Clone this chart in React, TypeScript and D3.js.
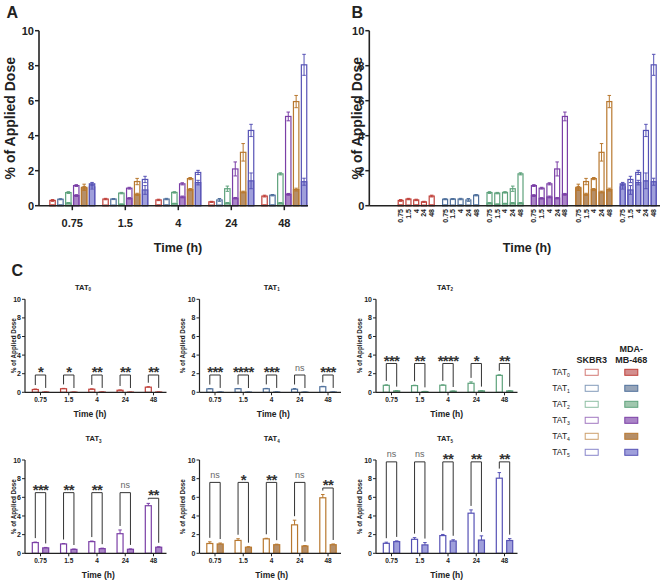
import React from "react";
import * as d3 from "d3";

// ---------- data ----------
const times = ["0.75", "1.5", "4", "24", "48"];
const tatDigits = ["0", "1", "2", "3", "4", "5"];
const strokeColors = ["#c0403a", "#4f709c", "#5ea27c", "#7b3fa6", "#b8782f", "#5652b5"];
const fillColors = ["#c87272", "#7d8ea8", "#88b99a", "#9566b9", "#a27242", "#8787d2"];

// SKBR3 (hollow) means and SD, per TAT, per time point
const skbr3Mean = [
  [0.30, 0.38, 0.33, 0.22, 0.55],
  [0.37, 0.38, 0.38, 0.33, 0.60],
  [0.75, 0.72, 0.76, 0.97, 1.82],
  [1.15, 1.00, 1.25, 2.10, 5.10],
  [1.05, 1.38, 1.55, 3.05, 5.95],
  [1.07, 1.50, 1.90, 4.30, 8.05],
];
const skbr3Sd = [
  [0.05, 0.04, 0.04, 0.03, 0.05],
  [0.03, 0.03, 0.04, 0.08, 0.04],
  [0.05, 0.04, 0.04, 0.15, 0.06],
  [0.05, 0.05, 0.06, 0.40, 0.25],
  [0.18, 0.18, 0.06, 0.50, 0.35],
  [0.12, 0.18, 0.12, 0.35, 0.60],
];
// MDA-MB-468 (filled)
const mdaMean = [
  [0.03, 0.02, 0.03, 0.02, 0.03],
  [0.03, 0.02, 0.03, 0.02, 0.03],
  [0.15, 0.08, 0.12, 0.15, 0.15],
  [0.58, 0.42, 0.50, 0.43, 0.65],
  [1.00, 0.65, 0.92, 0.78, 0.92],
  [1.25, 0.90, 1.32, 1.42, 1.37],
];
const mdaSd = [
  [0.01, 0.01, 0.01, 0.01, 0.01],
  [0.01, 0.01, 0.01, 0.01, 0.01],
  [0.03, 0.02, 0.02, 0.03, 0.03],
  [0.05, 0.04, 0.05, 0.04, 0.05],
  [0.10, 0.06, 0.06, 0.05, 0.08],
  [0.08, 0.25, 0.13, 0.45, 0.20],
];
const significance = [
  ["*", "*", "**", "**", "**"],
  ["***", "****", "***", "ns", "***"],
  ["***", "**", "****", "*", "**"],
  ["***", "**", "**", "ns", "**"],
  ["ns", "*", "**", "ns", "**"],
  ["ns", "ns", "**", "**", "**"],
];
const bracketLevel = [
  [1.86, 1.86, 1.86, 1.86, 1.86],
  [1.86, 1.86, 1.86, 1.86, 1.86],
  [3.1, 3.1, 3.1, 3.1, 3.1],
  [6.5, 6.5, 6.5, 6.5, 5.9],
  [7.6, 7.6, 7.6, 7.6, 7.0],
  [9.8, 9.8, 9.8, 9.8, 9.8],
];
const yTicks = [0, 2, 4, 6, 8, 10];
const cellLines = ["SKBR3", "MDA-MB-468"];

const FONT = "'Liberation Sans', Arial, Helvetica, sans-serif";

// ---------- helpers ----------
function Tat({ d, x, y, size, anchor = "middle", weight = "normal" }: any) {
  return (
    <text x={x} y={y} fontSize={size} fontWeight={weight} textAnchor={anchor} fontFamily={FONT} fill="#222">
      TAT
      <tspan fontSize={size * 0.6} dy={size * 0.25}>{d}</tspan>
    </text>
  );
}

function ErrBar({ cx, y, mean, sd, color, both, cap }: any) {
  const top = y(mean + sd);
  const bot = both ? y(Math.max(0, mean - sd)) : y(mean);
  return (
    <g stroke={color} strokeWidth={1}>
      <line x1={cx} x2={cx} y1={top} y2={bot} />
      <line x1={cx - cap / 2} x2={cx + cap / 2} y1={top} y2={top} />
      {both && <line x1={cx - cap / 2} x2={cx + cap / 2} y1={bot} y2={bot} />}
    </g>
  );
}

function OverlayBar({ cx, bw, y, k, t }: any) {
  const s = skbr3Mean[k][t];
  const m = mdaMean[k][t];
  return (
    <g>
      <rect x={cx - bw / 2} y={y(s)} width={bw} height={y(0) - y(s)} fill="#fff" stroke={strokeColors[k]} strokeWidth={1.2} />
      <rect x={cx - bw / 2} y={y(m)} width={bw} height={y(0) - y(m)} fill={fillColors[k]} fillOpacity={0.8} stroke={strokeColors[k]} strokeWidth={1.2} />
      <ErrBar cx={cx} y={y} mean={s} sd={skbr3Sd[k][t]} color={strokeColors[k]} both cap={3.5} />
      <ErrBar cx={cx} y={y} mean={m} sd={mdaSd[k][t]} color={strokeColors[k]} both cap={3.5} />
    </g>
  );
}

function YAxisBig({ x, y, ylabX }: any) {
  return (
    <g fontFamily={FONT}>
      <line x1={x} x2={x} y1={y(10)} y2={y(0)} stroke="#222" strokeWidth={1.6} />
      {yTicks.map((v) => (
        <g key={v}>
          <line x1={x - 4} x2={x} y1={y(v)} y2={y(v)} stroke="#222" strokeWidth={1.5} />
          <text x={x - 5} y={y(v)} dy="0.36em" textAnchor="end" fontSize={11} fontWeight="bold" fill="#222">{v}</text>
        </g>
      ))}
      <text transform={`translate(${ylabX},${(y(0) + y(10)) / 2}) rotate(-90)`} textAnchor="middle" dy="0.35em" fontSize={14} fontWeight="bold" fill="#222">% of Applied Dose</text>
    </g>
  );
}

// ---------- Panel A ----------
function PanelA() {
  const y = d3.scaleLinear().domain([0, 10]).range([205.7, 30.7]);
  const xg = d3.scaleBand().domain(times).range([45.8, 310.8]);
  const xi = d3.scalePoint<number>().domain(d3.range(6)).range([-19.75, 19.75]);
  const bw = 5.4;
  const axX = 39;
  return (
    <g>
      <text x={6.5} y={17.5} fontSize={16} fontWeight="bold" fontFamily={FONT} fill="#222">A</text>
      {times.map((tm, t) =>
        d3.range(6).map((k) => (
          <OverlayBar key={tm + k} cx={xg(tm)! + xg.bandwidth() / 2 + xi(k)!} bw={bw} y={y} k={k} t={t} />
        ))
      )}
      <YAxisBig x={axX} y={y} ylabX={10} />
      <line x1={axX} x2={308} y1={y(0)} y2={y(0)} stroke="#222" strokeWidth={1.6} />
      {times.map((tm) => {
        const cx = xg(tm)! + xg.bandwidth() / 2;
        return (
          <g key={tm}>
            <line x1={cx} x2={cx} y1={y(0)} y2={y(0) + 4.5} stroke="#222" strokeWidth={1.5} />
            <text x={cx} y={227} textAnchor="middle" fontSize={11} fontWeight="bold" fontFamily={FONT} fill="#222">{tm}</text>
          </g>
        );
      })}
      <text x={178} y={251.5} textAnchor="middle" fontSize={12.5} fontWeight="bold" fontFamily={FONT} fill="#222">Time (h)</text>
    </g>
  );
}

// ---------- Panel B ----------
function PanelB() {
  const y = d3.scaleLinear().domain([0, 10]).range([205.7, 30.7]);
  const xg = d3.scalePoint<number>().domain(d3.range(6)).range([416.2, 638.2]);
  const xi = d3.scalePoint<string>().domain(times).range([-15.5, 15.5]);
  const bw = 5;
  const axX = 369.3;
  return (
    <g>
      <text x={351.5} y={17.5} fontSize={16} fontWeight="bold" fontFamily={FONT} fill="#222">B</text>
      {d3.range(6).map((k) =>
        times.map((tm, t) => (
          <OverlayBar key={tm + k} cx={xg(k)! + xi(tm)!} bw={bw} y={y} k={k} t={t} />
        ))
      )}
      <YAxisBig x={axX} y={y} ylabX={357} />
      <line x1={axX} x2={660} y1={y(0)} y2={y(0)} stroke="#222" strokeWidth={1.6} />
      {d3.range(6).map((k) =>
        times.map((tm) => {
          const cx = xg(k)! + xi(tm)!;
          return (
            <text key={tm + k} transform={`translate(${cx},${209}) rotate(-90)`} textAnchor="end" dy="0.35em" fontSize={7} fontWeight="bold" fontFamily={FONT} fill="#222">{tm}</text>
          );
        })
      )}
      <text x={527} y={251.5} textAnchor="middle" fontSize={12.5} fontWeight="bold" fontFamily={FONT} fill="#222">Time (h)</text>
    </g>
  );
}

// ---------- Panel C ----------
const cCols = [25, 199.5, 376];
const cColYlab = [14, 182.7, 360];
const cRows = [[392.3, 299.3], [553.3, 460]];
const cTitleX = [83, 271.7, 445, 93.5, 271.7, 445];
const cTitleY = [289.5, 440.7];
const cTimeX = [90, 273.3, 446.7, 98.3, 271.7, 446.7];
const cTimeY = [416.5, 577.5];

function SmallPanel({ k }: any) {
  const col = k % 3;
  const row = Math.floor(k / 3);
  const x0 = cCols[col];
  const x1 = x0 + 141.5;
  const y = d3.scaleLinear().domain([0, 10]).range(cRows[row]);
  const x = d3.scalePoint<string>().domain(times).range([x0 + 15.5, x0 + 128.5]);
  const off = 5.2;
  const bw = 6;
  const c = strokeColors[k];
  return (
    <g fontFamily={FONT}>
      <Tat d={tatDigits[k]} x={cTitleX[k]} y={cTitleY[row]} size={7.5} weight="bold" />
      {times.map((tm, t) => {
        const cx = x(tm)!;
        const s = skbr3Mean[k][t];
        const m = mdaMean[k][t];
        const sTop = y(s + skbr3Sd[k][t]);
        const mTop = y(m + mdaSd[k][t]);
        const by = y(bracketLevel[k][t]);
        const sig = significance[k][t];
        const lx = cx - off;
        const rx = cx + off;
        return (
          <g key={tm}>
            <rect x={lx - bw / 2} y={y(s)} width={bw} height={y(0) - y(s)} fill="#fff" stroke={c} strokeWidth={1.2} />
            <rect x={rx - bw / 2} y={y(m)} width={bw} height={y(0) - y(m)} fill={fillColors[k]} fillOpacity={0.8} stroke={c} strokeWidth={1.2} />
            <ErrBar cx={lx} y={y} mean={s} sd={skbr3Sd[k][t]} color={c} cap={3.5} />
            <ErrBar cx={rx} y={y} mean={m} sd={mdaSd[k][t]} color={c} cap={3.5} />
            <path d={`M${lx},${sTop - 4}V${by}H${rx}V${mTop - 4}`} fill="none" stroke="#333" strokeWidth={1} />
            {sig === "ns" ? (
              <text x={cx} y={by - 4.5} textAnchor="middle" fontSize={9} fill="#666">ns</text>
            ) : (
              <text x={cx} y={by + 2.2} textAnchor="middle" fontSize={15} fontWeight="bold" fill="#333" letterSpacing={-0.7}>{sig}</text>
            )}
            <line x1={cx} x2={cx} y1={y(0)} y2={y(0) + 3} stroke="#222" strokeWidth={1} />
            <text x={cx} y={y(0) + 10} textAnchor="middle" fontSize={6.5} fontWeight="bold" fill="#222">{tm}</text>
          </g>
        );
      })}
      <line x1={x0} x2={x0} y1={y(10)} y2={y(0)} stroke="#222" strokeWidth={1.2} />
      <line x1={x0} x2={x1} y1={y(0)} y2={y(0)} stroke="#222" strokeWidth={1.2} />
      {yTicks.map((v) => (
        <g key={v}>
          <line x1={x0 - 3} x2={x0} y1={y(v)} y2={y(v)} stroke="#222" strokeWidth={1} />
          <text x={x0 - 4} y={y(v)} dy="0.36em" textAnchor="end" fontSize={7} fontWeight="bold" fill="#222">{v}</text>
        </g>
      ))}
      <text transform={`translate(${cColYlab[col]},${(y(0) + y(10)) / 2}) rotate(-90)`} textAnchor="middle" dy="0.35em" fontSize={6.3} fontWeight="bold" fill="#222">% of Applied Dose</text>
      <text x={cTimeX[k]} y={cTimeY[row]} textAnchor="middle" fontSize={8.5} fontWeight="bold" fill="#222">Time (h)</text>
    </g>
  );
}

function Legend() {
  const rowY = d3.scalePoint<number>().domain(d3.range(6)).range([375, 455]);
  const colX = [591.7, 631.3];
  return (
    <g fontFamily={FONT}>
      <text x={colX[0]} y={363.3} textAnchor="middle" fontSize={9} fontWeight="bold" fill="#222">{cellLines[0]}</text>
      <text x={colX[1]} y={351.7} textAnchor="middle" fontSize={9} fontWeight="bold" fill="#222">MDA-</text>
      <text x={colX[1]} y={363.3} textAnchor="middle" fontSize={9} fontWeight="bold" fill="#222">MB-468</text>
      {d3.range(6).map((k) => (
        <g key={k}>
          <Tat d={tatDigits[k]} x={552.3} y={rowY(k)} size={8.5} anchor="start" />
          <rect x={colX[0] - 6.5} y={rowY(k)! - 5.7} width={13} height={6} fill="#fff" stroke={strokeColors[k]} strokeWidth={1} strokeOpacity={0.7} />
          <rect x={colX[1] - 6.5} y={rowY(k)! - 5.7} width={13} height={6} fill={fillColors[k]} fillOpacity={0.8} stroke={strokeColors[k]} strokeWidth={1} />
        </g>
      ))}
    </g>
  );
}

export default function App() {
  return (
    <div style={{ position: "absolute", left: 0, top: 0 }}>
      <svg width={661} height={580} style={{ display: "block", background: "#fff" }}>
        <PanelA />
        <PanelB />
        <text x={11.5} y={276} fontSize={16} fontWeight="bold" fontFamily={FONT} fill="#222">C</text>
        {d3.range(6).map((k) => (
          <SmallPanel key={k} k={k} />
        ))}
        <Legend />
      </svg>
    </div>
  );
}
